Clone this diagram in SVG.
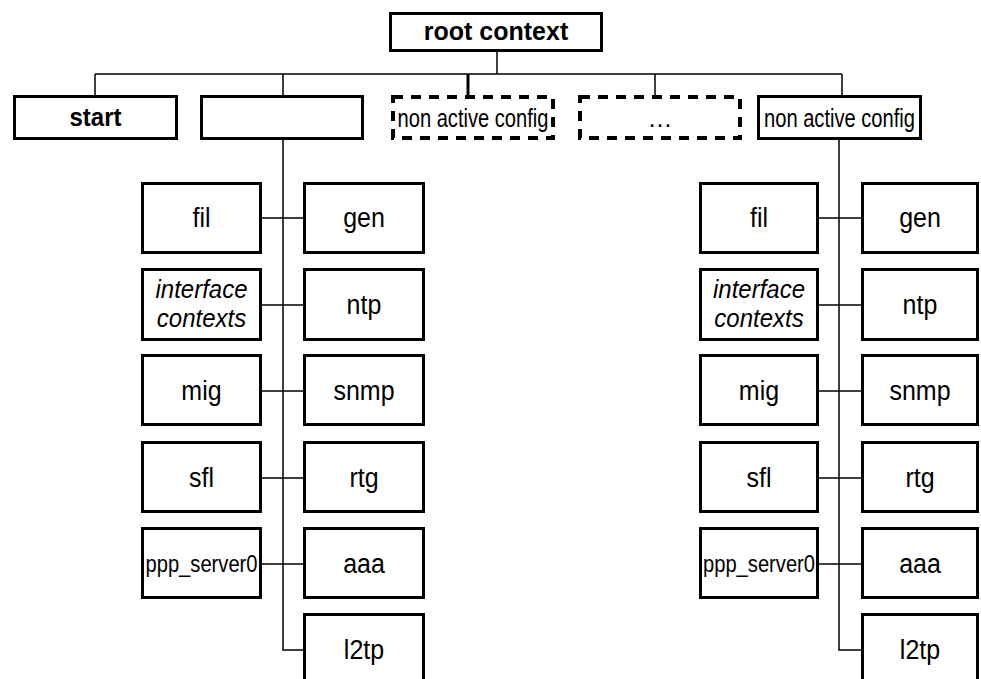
<svg xmlns="http://www.w3.org/2000/svg" width="981" height="679" viewBox="0 0 981 679">
  <style>
    .box { fill: #fff; stroke: #000; stroke-width: 3; }
    .dash { fill: #fff; stroke: #000; stroke-width: 4; stroke-dasharray: 10 8; }
    .ln { fill: none; stroke: #000; stroke-width: 1.5; }
    .lnb { fill: none; stroke: #000; stroke-width: 3; }
    .t { font-family: "Liberation Sans", Arial, sans-serif; font-size: 25px; text-anchor: middle; fill: #000;
         transform-box: fill-box; transform-origin: center; transform: scale(1, 1.08); }
    .b { font-weight: bold; }
    .i { font-style: italic; font-size: 24px; }
    .n { font-size: 25px; transform: none; }
    .p { font-size: 24px; transform: none; }
  </style>
  <rect width="981" height="679" fill="#fff"/>

  <!-- connectors -->
  <g id="connectors">
    <path class="ln" d="M497 52V74M95 74H842M95 74V95M283 74V95M655 74V95M842 74V95"/>
    <path class="lnb" d="M468 74V95"/>
    <!-- left branch -->
    <path class="ln" d="M283 140V650H303M262 218H303M262 305H303M262 391H303M262 478H303M262 564H303"/>
    <!-- right branch -->
    <path class="ln" d="M839 140V650H861M819 218H861M819 305H861M819 391H861M819 478H861M819 564H861"/>
  </g>

  <!-- top level -->
  <g id="root"><rect class="box" x="390.5" y="13.5" width="211" height="37"/><text class="t b" x="496" y="40" style="transform:none">root context</text></g>
  <g id="start"><rect class="box" x="14.5" y="96.5" width="162" height="42"/><text class="t b" x="95.5" y="125" style="font-size:24px">start</text></g>
  <g id="active"><rect class="box" x="201.5" y="96.5" width="161" height="42"/></g>
  <g id="nonactive1"><rect class="dash" x="393" y="97" width="160" height="41"/><text class="t n" x="473" y="127" textLength="151" lengthAdjust="spacingAndGlyphs">non active config</text></g>
  <g id="more"><rect class="dash" x="580" y="97" width="160" height="41"/><text class="t n" x="660" y="127">…</text></g>
  <g id="nonactive2"><rect class="box" x="758.5" y="96.5" width="162" height="42"/><text class="t n" x="839.5" y="127" textLength="151" lengthAdjust="spacingAndGlyphs">non active config</text></g>

  <!-- left branch contexts -->
  <g id="l-fil"><rect class="box" x="142.5" y="183.5" width="118" height="69"/><text class="t" x="201.5" y="226">fil</text></g>
  <g id="l-gen"><rect class="box" x="304.5" y="183.5" width="119" height="69"/><text class="t" x="364" y="226">gen</text></g>
  <g id="l-if"><rect class="box" x="142.5" y="269.5" width="118" height="70"/><text class="t i" x="201.5" y="297">interface</text><text class="t i" x="201.5" y="326">contexts</text></g>
  <g id="l-ntp"><rect class="box" x="304.5" y="269.5" width="119" height="70"/><text class="t" x="364" y="313">ntp</text></g>
  <g id="l-mig"><rect class="box" x="142.5" y="355.5" width="118" height="69"/><text class="t" x="201.5" y="399">mig</text></g>
  <g id="l-snmp"><rect class="box" x="304.5" y="355.5" width="119" height="69"/><text class="t" x="364" y="399">snmp</text></g>
  <g id="l-sfl"><rect class="box" x="142.5" y="442.5" width="118" height="69"/><text class="t" x="201.5" y="486">sfl</text></g>
  <g id="l-rtg"><rect class="box" x="304.5" y="442.5" width="119" height="69"/><text class="t" x="364" y="486">rtg</text></g>
  <g id="l-ppp"><rect class="box" x="142.5" y="528.5" width="118" height="69"/><text class="t p" x="201.5" y="572" textLength="112" lengthAdjust="spacingAndGlyphs">ppp_server0</text></g>
  <g id="l-aaa"><rect class="box" x="304.5" y="528.5" width="119" height="69"/><text class="t" x="364" y="572">aaa</text></g>
  <g id="l-l2tp"><rect class="box" x="304.5" y="614.5" width="119" height="80"/><text class="t" x="364" y="658">l2tp</text></g>

  <!-- right branch contexts -->
  <g id="r-fil"><rect class="box" x="700.5" y="183.5" width="117" height="69"/><text class="t" x="759" y="226">fil</text></g>
  <g id="r-gen"><rect class="box" x="862.5" y="183.5" width="115" height="69"/><text class="t" x="920" y="226">gen</text></g>
  <g id="r-if"><rect class="box" x="700.5" y="269.5" width="117" height="70"/><text class="t i" x="759" y="297">interface</text><text class="t i" x="759" y="326">contexts</text></g>
  <g id="r-ntp"><rect class="box" x="862.5" y="269.5" width="115" height="70"/><text class="t" x="920" y="313">ntp</text></g>
  <g id="r-mig"><rect class="box" x="700.5" y="355.5" width="117" height="69"/><text class="t" x="759" y="399">mig</text></g>
  <g id="r-snmp"><rect class="box" x="862.5" y="355.5" width="115" height="69"/><text class="t" x="920" y="399">snmp</text></g>
  <g id="r-sfl"><rect class="box" x="700.5" y="442.5" width="117" height="69"/><text class="t" x="759" y="486">sfl</text></g>
  <g id="r-rtg"><rect class="box" x="862.5" y="442.5" width="115" height="69"/><text class="t" x="920" y="486">rtg</text></g>
  <g id="r-ppp"><rect class="box" x="700.5" y="528.5" width="117" height="69"/><text class="t p" x="759" y="572" textLength="112" lengthAdjust="spacingAndGlyphs">ppp_server0</text></g>
  <g id="r-aaa"><rect class="box" x="862.5" y="528.5" width="115" height="69"/><text class="t" x="920" y="572">aaa</text></g>
  <g id="r-l2tp"><rect class="box" x="862.5" y="614.5" width="115" height="80"/><text class="t" x="920" y="658">l2tp</text></g>
</svg>
